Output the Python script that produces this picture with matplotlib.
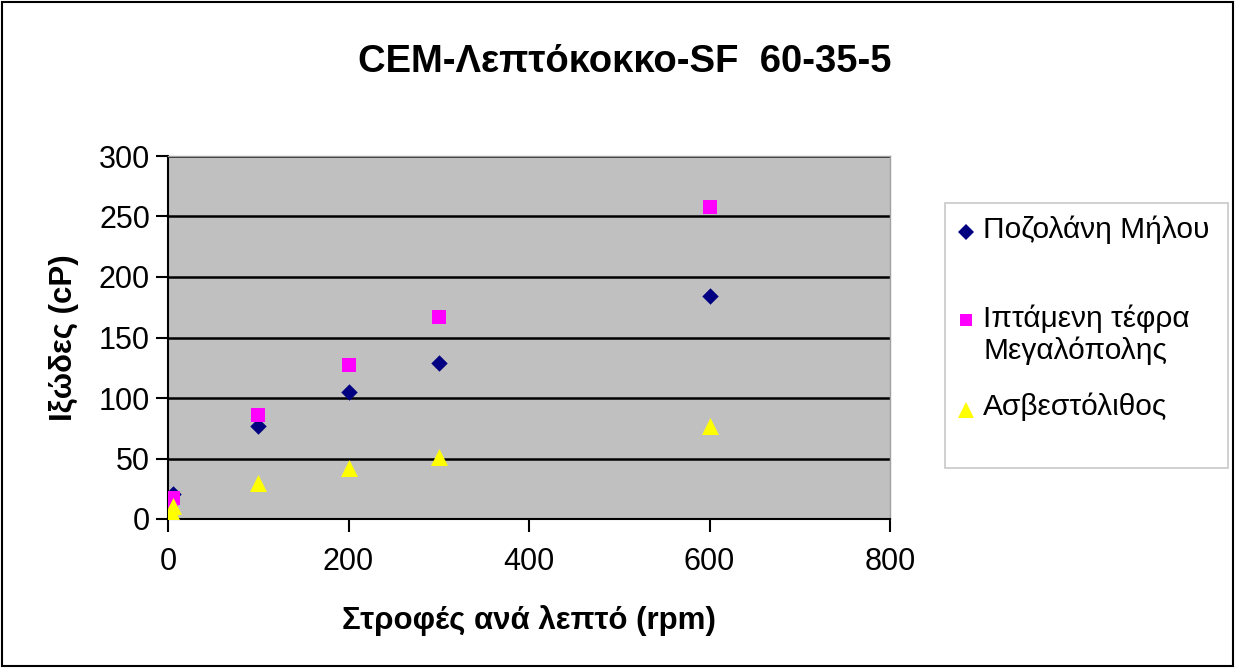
import matplotlib
matplotlib.use("Agg")
import matplotlib.pyplot as plt
from matplotlib.patches import Rectangle
from matplotlib.lines import Line2D

plt.rcParams['font.family'] = ['Liberation Sans', 'DejaVu Sans']

title = "CEM-Λεπτόκοκκο-SF  60-35-5"
xlabel = "Στροφές ανά λεπτό (rpm)"
ylabel = "Ιξώδες (cP)"

rpm = [3, 6, 100, 200, 300, 600]
pozolani = [18, 21, 77, 105, 129, 184]
iptamenh = [15, 17, 86, 127, 167, 258]
asvestolithos = [7, 11, 30, 42, 51, 77]

labels = ["Ποζολάνη Μήλου", "Ιπτάμενη τέφρα\nΜεγαλόπολης", "Ασβεστόλιθος"]
colors = ['#000080', '#FF00FF', '#FFFF00']
markers = ['D', 's', '^']
xticks = [0, 200, 400, 600, 800]
yticks = [0, 50, 100, 150, 200, 250, 300]

W, H = 1237, 668
fig = plt.figure(figsize=(W / 100, H / 100), dpi=100)
ax = fig.add_axes([168 / W, 1 - 519 / H, (890 - 168) / W, (519 - 156) / H])
ax.set_facecolor('#C0C0C0')

series = [pozolani, iptamenh, asvestolithos]
sizes = [70, 110, 150]
for vals, lab, c, m, s in zip(series, labels, colors, markers, sizes):
    ax.scatter(rpm, vals, marker=m, s=s, color=c, label=lab, zorder=3, linewidths=0)

ax.set_xlim(0, 800)
ax.set_ylim(0, 300)
ax.set_xticks(xticks)
ax.set_yticks(yticks)
ax.yaxis.grid(True, color='black', linewidth=1.8)
ax.set_axisbelow(True)
ax.tick_params(axis='both', direction='out', length=9, width=1.5, labelsize=22, colors='black')
ax.tick_params(axis='x', pad=11)
ax.tick_params(axis='y', pad=4)
for s in ['top', 'right']:
    ax.spines[s].set_color('#A0A0A0')
    ax.spines[s].set_linewidth(1)
for s in ['left', 'bottom']:
    ax.spines[s].set_color('black')
    ax.spines[s].set_linewidth(1.5)

ax.set_xlabel(xlabel, fontsize=22.5, fontweight='bold', labelpad=20)
ax.set_ylabel(ylabel, fontsize=22.5, fontweight='bold', labelpad=14)
fig.text(625 / W, 1 - 62 / H, title, fontsize=27.5, fontweight='bold', ha='center', va='center')

# legend (manual layout to match the uneven entry spacing of the original)
def fx(px):
    return px / W

def fy(py):
    return 1 - py / H

fig.patches.append(Rectangle((fx(945), fy(468)), fx(1228) - fx(945), fy(203) - fy(468),
                             transform=fig.transFigure, facecolor='white',
                             edgecolor='#C8C8C8', linewidth=1.2, zorder=5))
leg_marker_y = [232, 320, 410]
leg_marker_size = [8, 9, 11]
leg_text_y = [230, 335, 407]
for lab, c, m, my, ms, ty in zip(labels, colors, markers, leg_marker_y, leg_marker_size, leg_text_y):
    fig.add_artist(Line2D([fx(966)], [fy(my)], transform=fig.transFigure, marker=m, color=c,
                          markersize=ms, markeredgewidth=0, linestyle='none', zorder=6))
    fig.text(fx(983), fy(ty), lab, fontsize=21.5, ha='left', va='center', zorder=6, linespacing=1.15)

fig.patches.append(Rectangle((0.002, 0.003), 0.995, 0.994, transform=fig.transFigure,
                             fill=False, edgecolor='black', linewidth=1.5))

fig.savefig('out.png', dpi=100)
